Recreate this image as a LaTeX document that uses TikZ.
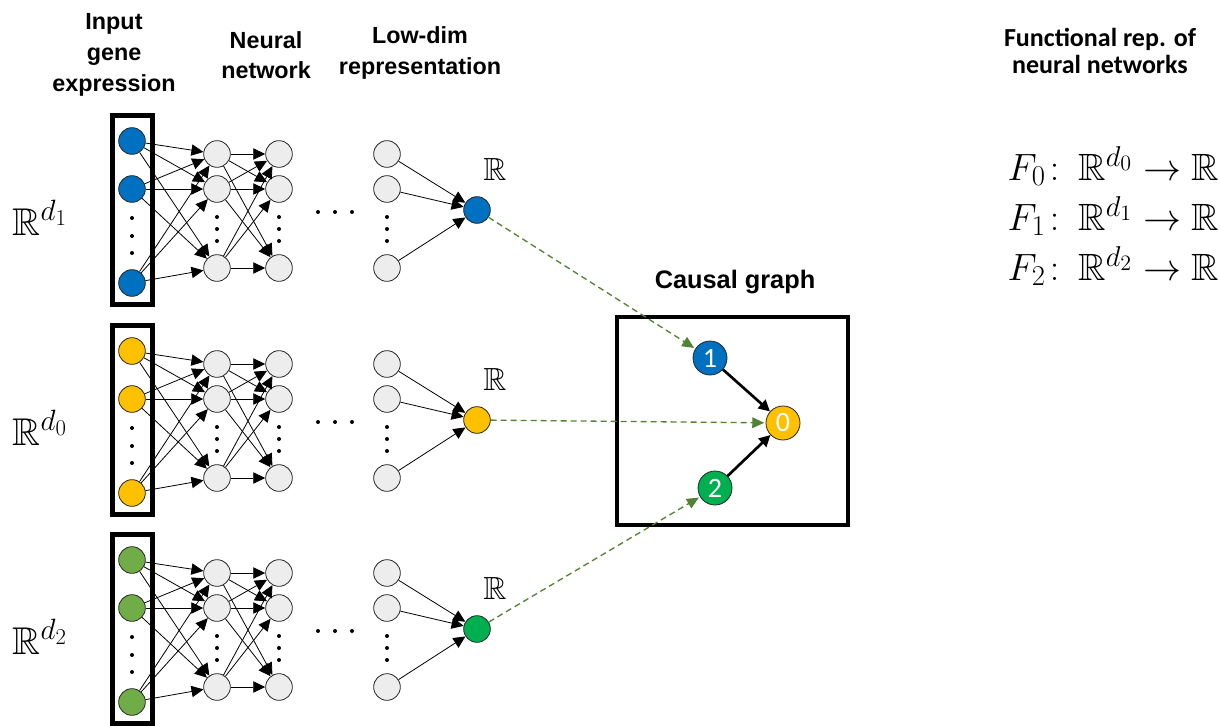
\RequirePackage{fix-cm}
\documentclass[tikz,border=0pt]{standalone}
\usepackage{amsmath,amssymb}
\usepackage{fontspec}
\usetikzlibrary{arrows.meta}
\newfontfamily\arialfont{Liberation Sans}
\newfontfamily\calibrifont{Carlito}
% freely scalable blackboard bold
\DeclareFontFamily{U}{msb}{}
\DeclareFontShape{U}{msb}{m}{n}{<-6>msbm5<6-8>msbm7<8->msbm10}{}
% larger scripts for the big formulas
\DeclareMathSizes{29}{29}{22}{17}
\DeclareMathSizes{28.5}{28.5}{21.5}{16.5}

\definecolor{inblue}{HTML}{0070C0}
\definecolor{ingold}{HTML}{FFC000}
\definecolor{inlgreen}{HTML}{70AD47}
\definecolor{indgreen}{HTML}{00B050}
\definecolor{nodegray}{HTML}{EDEDED}
\definecolor{linkgreen}{HTML}{548235}

\tikzset{
  unit/.style={circle, draw=black!85, line width=0.6pt, minimum size=20pt, inner sep=0pt},
  hidden/.style={unit, fill=nodegray},
  wire/.style={line width=0.6pt, -{Triangle[length=9pt,width=8.5pt]}},
  smalldot/.style={circle, fill=black, inner sep=0pt, minimum size=3pt},
  inbox/.style={draw, line width=3.4pt},
  heading/.style={font=\arialfont\bfseries\fontsize{17.5}{23}\selectfont, align=center},
  cnode/.style={circle, draw=black!85, line width=0.6pt, minimum size=25.5pt, inner sep=0pt,
    text=white, font=\calibrifont\fontsize{21}{21}\selectfont},
  causal/.style={line width=2pt, -{Triangle[length=8.5pt,width=8.5pt]}},
  link/.style={linkgreen, line width=1pt, dash pattern=on 4.5pt off 3pt,
    -{Triangle[length=9pt,width=8pt]}, shorten >=1pt},
  bigmath/.style={font=\fontsize{29}{29}\selectfont},
  eqmath/.style={font=\fontsize{28.5}{28.5}\selectfont},
}

% one encoder: #1 name prefix, #2 vertical offset, #3 input colour,
% #4 output colour, #5 index of the input space
\newcommand\neuralnet[5]{%
  \begin{scope}[shift={(0,#2)}]
    \draw[inbox] (112.5,115.5) rectangle (152.5,304.5);
    \node[unit, fill=#3] (#1i1) at (132,141) {};
    \node[unit, fill=#3] (#1i2) at (132,189) {};
    \node[unit, fill=#3] (#1i3) at (132,283) {};
    \foreach \yy in {218,236,253} \node[smalldot] at (132,\yy) {};
    \foreach \L/\xx in {a/217, b/279, c/387} {
      \node[hidden] (#1\L1) at (\xx,154) {};
      \node[hidden] (#1\L2) at (\xx,189) {};
      \node[hidden] (#1\L3) at (\xx,268) {};
      \foreach \yy in {217,229,241} \node[smalldot] at (\xx,\yy) {};
    }
    \foreach \xx in {318,335,352} \node[smalldot] at (\xx,212) {};
    \node[unit, fill=#4] (#1o) at (477,210) {};
    \foreach \s in {1,2,3} {
      \foreach \t in {1,2,3} {
        \draw[wire] (#1i\s) -- (#1a\t);
        \draw[wire] (#1a\s) -- (#1b\t);
      }
      \draw[wire] (#1c\s) -- (#1o);
    }
    \node[anchor=base, font=\fontsize{24}{24}\selectfont] (#1R) at (495,180) {$\mathbb{R}$};
    \node[anchor=base west, bigmath] (#1dim) at (8,235) {$\mathbb{R}^{d_{#5}}$};
  \end{scope}
}

\begin{document}
\begin{tikzpicture}[x=0.75pt, y=-0.75pt]
  \useasboundingbox (0,0) rectangle (1220,725);

  % column headings
  \node[heading] (hin) at (114,55) {Input\\gene\\expression};
  \node[heading] (hnn) at (266,55) {Neural\\network};
  \node[heading] (hld) at (420,53) {Low-dim\\representation};

  % three encoders
  \neuralnet{t}{0}{inblue}{inblue}{1}
  \neuralnet{m}{210}{ingold}{ingold}{0}
  \neuralnet{b}{419}{inlgreen}{indgreen}{2}

  % causal graph
  \node[font=\arialfont\bfseries\fontsize{19}{23}\selectfont] (cgtitle) at (735,282) {Causal graph};
  \draw[line width=3pt] (617,317) rectangle (848,525);
  \node[cnode, fill=inblue] (c1) at (710,358) {1};
  \node[cnode, fill=ingold] (c0) at (783,423) {0};
  \node[cnode, fill=indgreen] (c2) at (715,488) {2};
  \draw[causal] (c1) -- (c0);
  \draw[causal] (c2) -- (c0);

  \draw[link] (to) -- (c1);
  \draw[link] (mo) -- (c0);
  \draw[link] (bo) -- (c2);

  % functional representation
  \node[font=\calibrifont\bfseries\fontsize{19.5}{20.5}\selectfont, align=center] (fhead) at (1100,51)
    {Functional rep. of\\neural networks};
  \node[anchor=base west, eqmath] (f0) at (1003,180) {$F_0\colon\,\mathbb{R}^{d_0}\to\mathbb{R}$};
  \node[anchor=base west, eqmath] (f1) at (1003,230) {$F_1\colon\,\mathbb{R}^{d_1}\to\mathbb{R}$};
  \node[anchor=base west, eqmath] (f2) at (1003,280) {$F_2\colon\,\mathbb{R}^{d_2}\to\mathbb{R}$};
\end{tikzpicture}
\end{document}
